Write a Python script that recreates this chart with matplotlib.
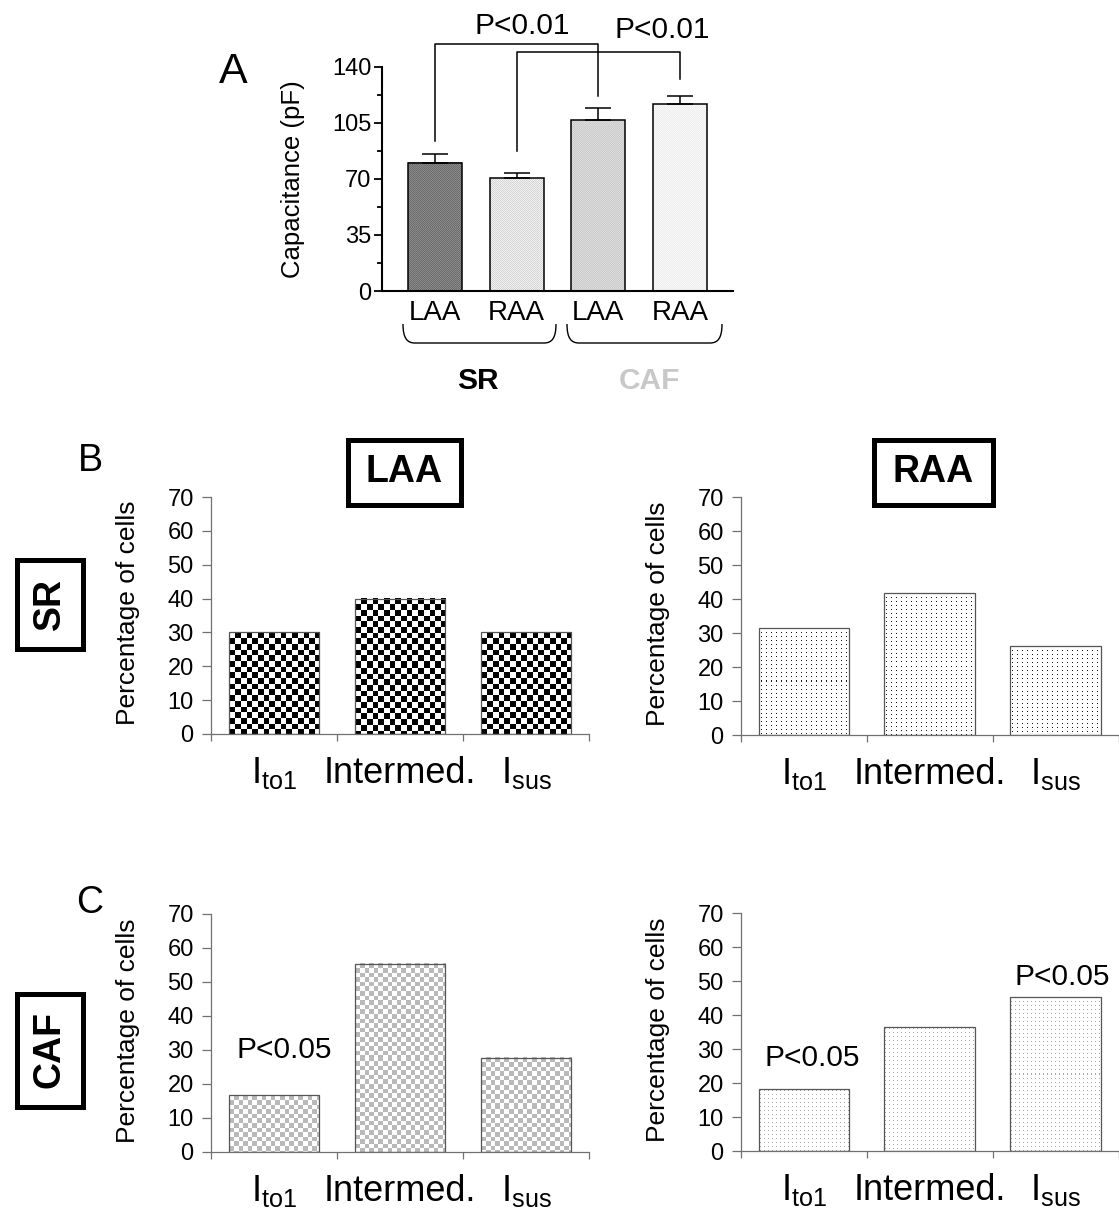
import numpy as np
import matplotlib
matplotlib.use("Agg")
import matplotlib.pyplot as plt
from matplotlib.patches import Rectangle, PathPatch
from matplotlib.path import Path
import matplotlib.transforms as mtransforms

plt.rcParams['font.family'] = ['Liberation Sans', 'DejaVu Sans']
plt.rcParams['mathtext.fontset'] = 'custom'
plt.rcParams['mathtext.rm'] = 'Liberation Sans'
plt.rcParams['mathtext.it'] = 'Liberation Sans:italic'
plt.rcParams['mathtext.bf'] = 'Liberation Sans:bold'

# ---------------- data ----------------
# Panel A: capacitance
cap_groups = ["SR", "CAF"]
cap_labels = ["LAA", "RAA", "LAA", "RAA"]
cap_means = [80.2, 70.3, 106.5, 116.5]
cap_errs = [5.4, 3.5, 7.5, 5.4]
cap_yticks = [0, 35, 70, 105, 140]
# significance brackets: (bar i, bar j), bar height, left-leg end, right-leg end
brk_pairs = [(0, 2), (1, 3)]
brk_y = [154.0, 149.0]
brk_left_end = [93.6, 87.6]
brk_right_end = [121.7, 132.6]
brk_text = ["P<0.01", "P<0.01"]

# Panels B/C: percentage of cells
cur_labels = [r"$\mathregular{I_{to1}}$", "Intermed.", r"$\mathregular{I_{sus}}$"]
pct_SR_LAA = [30.0, 40.0, 30.0]
pct_SR_RAA = [31.6, 41.9, 26.2]
pct_CAF_LAA = [16.7, 55.4, 27.7]
pct_CAF_RAA = [18.2, 36.4, 45.4]
pct_yticks = [0, 10, 20, 30, 40, 50, 60, 70]

W, H = 1119, 1211
fig = plt.figure(figsize=(W / 100, H / 100), dpi=100)
fig.patch.set_facecolor('white')

px2fig = mtransforms.Affine2D().scale(1 / W, -1 / H).translate(0, 1) + fig.transFigure


def add_axes_px(l, r, t, b):
    return fig.add_axes([l / W, 1 - b / H, (r - l) / W, (b - t) / H])


def hexrgb(c):
    return np.array(matplotlib.colors.to_rgb(c))


def make_pattern(kind, nh, nw):
    ii, jj = np.meshgrid(np.arange(nh), np.arange(nw), indexing='ij')
    img = np.ones((nh, nw, 3))
    if kind == 'checker_bw':
        c = 5.7
        m = ((np.floor(ii / c) + np.floor(jj / c)) % 2).astype(bool)
        img[m] = hexrgb('#000000')
    elif kind == 'checker_gray':
        c = 4.6
        m = ((np.floor(ii / c) + np.floor(jj / c)) % 2).astype(bool)
        img[m] = hexrgb('#b9b9b9')
    elif kind == 'dots_black':
        m = ((jj % 5) == 2) & ((ii % 4) == 1)
        img[m] = hexrgb('#1a1a1a')
    elif kind == 'dots_gray':
        m = ((jj % 4) == 1) & ((ii % 4) == 1)
        img[m] = hexrgb('#a8a8a8')
    elif kind.startswith('fine'):
        _, a, b = kind.split(':')
        m = ((ii + jj) % 2).astype(bool)
        img[:] = hexrgb(a)
        img[m] = hexrgb(b)
    return img


def pattern_bars(ax, bars, kinds):
    for rect, kind in zip(bars, kinds):
        x0, y0 = rect.get_x(), rect.get_y()
        w, h = rect.get_width(), rect.get_height()
        p0 = ax.transData.transform((x0, y0))
        p1 = ax.transData.transform((x0 + w, y0 + h))
        nw = max(1, int(round(abs(p1[0] - p0[0]))))
        nh = max(1, int(round(abs(p1[1] - p0[1]))))
        img = make_pattern(kind, nh, nw)
        ax.imshow(img, extent=(x0, x0 + w, y0, y0 + h), origin='upper',
                  interpolation='nearest', aspect='auto', zorder=2)


# ---------------- Panel A ----------------
axA = add_axes_px(382, 733, 66.7, 291)
xA = np.arange(len(cap_means))
axA.set_xlim(-0.649, 3.648)
axA.set_ylim(0, 140)
axA.set_autoscale_on(False)
barsA = axA.bar(xA, cap_means, width=0.66, facecolor='none', edgecolor='black',
                linewidth=1.1, zorder=3)
pattern_bars(axA, barsA, ['fine:#6c6c6c:#8a8a8a', 'fine:#d6d6d6:#f0f0f0',
                          'fine:#cbcbcb:#dcdcdc', 'fine:#ececec:#fafafa'])
axA.errorbar(xA, cap_means, yerr=[np.zeros(len(cap_errs)), cap_errs], fmt='none',
             ecolor='black', elinewidth=1.1, capsize=9.5, capthick=1.1, zorder=4)
axA.set_xlim(-0.649, 3.648)
axA.set_ylim(0, 140)
for s in ['top', 'right']:
    axA.spines[s].set_visible(False)
for s in ['left', 'bottom']:
    axA.spines[s].set_linewidth(1.5)
axA.set_yticks(cap_yticks)
axA.set_yticks([17.5, 52.5, 87.5, 122.5], minor=True)
axA.tick_params(axis='y', which='major', length=6, width=1.3, labelsize=17, pad=1.5)
axA.tick_params(axis='y', which='minor', length=3.5, width=1.3)
axA.set_xticks([])
axA.set_ylabel("Capacitance (pF)", fontsize=18.5)
axA.yaxis.set_label_coords(-0.219, 0.5)
for xi, lab in zip(xA, cap_labels):
    axA.text(xi, -0.098, lab, transform=axA.get_xaxis_transform(), ha='center',
             va='center', fontsize=20)
for (i, j), yb, yl, yr, t in zip(brk_pairs, brk_y, brk_left_end, brk_right_end, brk_text):
    axA.plot([xA[i], xA[i], xA[j], xA[j]], [yl, yb, yb, yr], color='black',
             lw=1.1, clip_on=False, zorder=5)
axA.text(1.065, 165.7, brk_text[0], ha='center', va='center', fontsize=21.5, clip_on=False)
axA.text(2.78, 162.6, brk_text[1], ha='center', va='center', fontsize=21.5, clip_on=False)


def brace(x0, x1, ytop, ybot):
    r = 12
    verts = [(x0, ytop), (x0, ybot - 5), (x0 + 4, ybot), (x0 + r, ybot),
             (x1 - r, ybot), (x1 - 4, ybot), (x1, ybot - 5), (x1, ytop)]
    codes = [Path.MOVETO, Path.CURVE4, Path.CURVE4, Path.CURVE4,
             Path.LINETO, Path.CURVE4, Path.CURVE4, Path.CURVE4]
    fig.add_artist(PathPatch(Path(verts, codes), facecolor='none', edgecolor='black',
                             lw=1.0, transform=px2fig))


brace(403, 556, 324, 343)
brace(567, 722, 324, 343)
fig.text(478 / W, 1 - 381 / H, cap_groups[0], ha='center', va='center', fontsize=21.5,
         fontweight='bold', color='black')
fig.text(649 / W, 1 - 381 / H, cap_groups[1], ha='center', va='center', fontsize=21.5,
         fontweight='bold', color='#c8c8c8')
fig.text(233 / W, 1 - 72 / H, "A", ha='center', va='center', fontsize=31)


# ---------------- Panels B/C ----------------
def pct_panel(rect_px, vals, kind, ptexts=()):
    ax = add_axes_px(*rect_px)
    x = np.arange(len(vals))
    ax.set_xlim(-0.5, 2.5)
    ax.set_ylim(0, 70)
    ax.set_autoscale_on(False)
    bars = ax.bar(x, vals, width=0.72, facecolor='none', edgecolor='#555555',
                  linewidth=0.9, zorder=3)
    pattern_bars(ax, bars, [kind] * len(vals))
    ax.set_xlim(-0.5, 2.5)
    ax.set_ylim(0, 70)
    for s in ['top', 'right']:
        ax.spines[s].set_visible(False)
    for s in ['left', 'bottom']:
        ax.spines[s].set_color('#707070')
        ax.spines[s].set_linewidth(0.9)
    ax.set_yticks(pct_yticks)
    ax.tick_params(axis='y', length=6.5, width=0.9, color='#707070', labelsize=17, pad=6)
    ax.set_xticks([-0.5, 0.5, 1.5, 2.5])
    ax.set_xticklabels([])
    ax.tick_params(axis='x', length=5, width=0.9, color='#707070')
    ax.set_ylabel("Percentage of cells", fontsize=19)
    ax.yaxis.set_label_coords(-0.187, 0.51)
    for xi, lab in zip(x, cur_labels):
        ax.text(xi, -0.165, lab, transform=ax.get_xaxis_transform(), ha='center',
                va='center', fontsize=26)
    for (tx, ty) in ptexts:
        ax.text(tx, ty, "P<0.05", ha='center', va='center', fontsize=21.5)
    return ax


pct_panel((211, 589, 497, 734), pct_SR_LAA, 'checker_bw')
pct_panel((741, 1118.5, 497, 735), pct_SR_RAA, 'dots_black')
pct_panel((211, 589, 914, 1152), pct_CAF_LAA, 'checker_gray', [(0.08, 30.0)])
pct_panel((741, 1118.5, 913, 1151), pct_CAF_RAA, 'dots_gray', [(0.07, 27.4), (2.05, 51.2)])


def box_label(l, r, t, b, text, rotation=0, lw=3.6):
    inset = lw * 100 / 72 / 2
    fig.add_artist(Rectangle((l + inset, b - inset), (r - l) - 2 * inset, -((b - t) - 2 * inset),
                             facecolor='white', edgecolor='black', lw=lw,
                             transform=px2fig))
    fig.text((l + r) / 2 / W, 1 - (t + b) / 2 / H, text, ha='center', va='center',
             fontsize=27, fontweight='bold', rotation=rotation)


box_label(345, 463, 437, 507, "LAA")
box_label(871, 995, 437, 507, "RAA")
box_label(14, 85, 557, 651, "SR", rotation=90)
box_label(14, 85, 991, 1109, "CAF", rotation=90)

fig.text(90 / W, 1 - 461 / H, "B", ha='center', va='center', fontsize=27)
fig.text(90 / W, 1 - 903 / H, "C", ha='center', va='center', fontsize=27)

fig.savefig("out.png", dpi=100, facecolor='white')
